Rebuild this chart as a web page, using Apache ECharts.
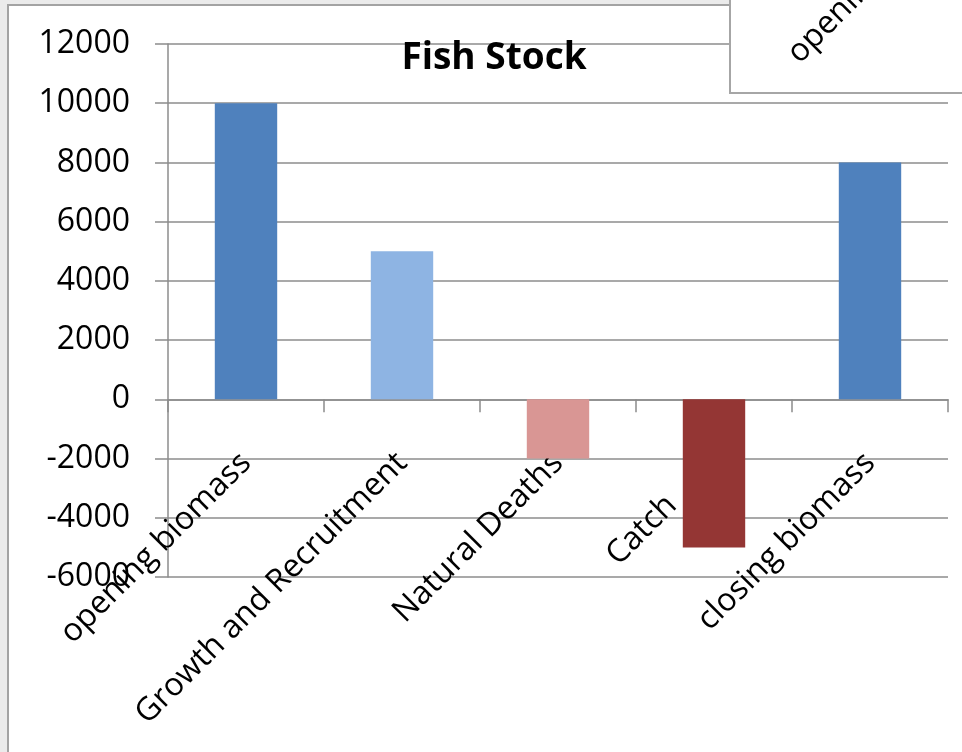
<!DOCTYPE html>
<html>
<head>
<meta charset="utf-8">
<script src="https://cdn.jsdelivr.net/npm/echarts@6/dist/echarts.min.js"></script>
<style>
html,body{margin:0;padding:0;background:#ebebeb;}
#chart{width:962px;height:752px;}
</style>
</head>
<body>
<div id="chart"></div>
<script>
const titleText = 'Fish Stock';
const categories = ['opening biomass', 'Growth and Recruitment', 'Natural Deaths', 'Catch', 'closing biomass'];
const values = [10000, 5000, -2000, -5000, 8000];
const barColors = ['#4F81BD', '#8EB4E3', '#D99694', '#943634', '#4F81BD'];
const yMin = -6000, yMax = 12000, yStep = 2000;
const legendText = 'opening biomass';

const FONT = '"Open Sans", "Liberation Sans", sans-serif';
const chart = echarts.init(document.getElementById('chart'), null, {renderer: 'canvas'});

const catData = categories.map(function (c, i) {
  if (values[i] < -3000) {
    return {value: c, textStyle: {padding: [0, 60, 0, 0]}};
  }
  return c;
});

const option = {
  backgroundColor: '#ebebeb',
  animation: false,
  title: {
    text: titleText,
    left: 489,
    top: 35,
    textAlign: 'center',
    textStyle: {fontFamily: FONT, fontSize: 37, fontWeight: 'bold', color: '#000'}
  },
  grid: {left: 168, right: 14, top: 44, bottom: 175, containLabel: false, outerBoundsMode: 'none'},
  xAxis: {
    type: 'category',
    data: catData,
    axisLine: {show: true, onZero: true, lineStyle: {color: '#8c8c8c', width: 1.5}},
    axisTick: {show: true, length: 13, inside: false, alignWithLabel: false, lineStyle: {color: '#8c8c8c', width: 1.5}},
    axisLabel: {
      interval: 0, rotate: 45, margin: -119, hideOverlap: false,
      fontFamily: FONT, fontSize: 32, color: '#000'
    },
    splitLine: {show: false}
  },
  yAxis: {
    type: 'value',
    min: yMin, max: yMax, interval: yStep,
    axisLine: {show: true, lineStyle: {color: '#8c8c8c', width: 1.5}},
    axisTick: {show: true, length: 13, lineStyle: {color: '#8c8c8c', width: 1.5}},
    axisLabel: {margin: 38, fontFamily: FONT, fontSize: 32, color: '#000', formatter: function (v) { return String(v); }},
    splitLine: {show: true, lineStyle: {color: '#8c8c8c', width: 1.5}}
  },
  series: [{
    type: 'bar',
    barWidth: '40%',
    data: values.map(function (v, i) { return {value: v, itemStyle: {color: barColors[i]}}; }),
    z: 2
  }],
  graphic: [
    {
      type: 'rect', z: -100, silent: true,
      shape: {x: 8, y: 5, width: 980, height: 780},
      style: {fill: '#ffffff', stroke: '#a3a3a3', lineWidth: 2}
    },
    {
      type: 'rect', z: 100, silent: true,
      shape: {x: 730, y: -10, width: 260, height: 103},
      style: {fill: '#ffffff', stroke: '#a6a6a6', lineWidth: 2}
    },
    {
      type: 'text', z: 101, silent: true,
      x: 793, y: 58, rotation: Math.PI / 4,
      style: {text: legendText, fontFamily: FONT, fontSize: 32, fill: '#000', textAlign: 'left', textVerticalAlign: 'middle'}
    }
  ]
};
chart.setOption(option);
</script>
</body>
</html>
